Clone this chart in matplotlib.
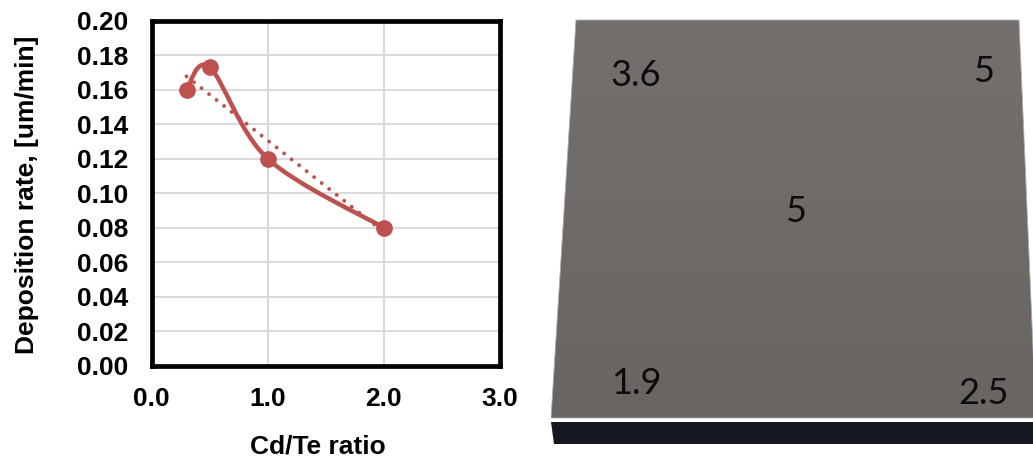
import numpy as np
import matplotlib
matplotlib.use("Agg")
from matplotlib import pyplot as plt
from matplotlib.path import Path
from matplotlib.patches import PathPatch, Polygon

plt.rcParams['font.family'] = ['Liberation Sans', 'DejaVu Sans']

# Chart data
cd_te = [0.3, 0.5, 1.0, 2.0]
rate = [0.16, 0.173, 0.12, 0.08]
x_ticks = [0.0, 1.0, 2.0, 3.0]
y_ticks = [0.00, 0.02, 0.04, 0.06, 0.08, 0.10, 0.12, 0.14, 0.16, 0.18, 0.20]

# Numbers on the plate
plate_labels = ["3.6", "5", "5", "1.9", "2.5"]

W, H = 1033, 459
RED = "#c0504d"
FS = 19
fig = plt.figure(figsize=(W / 100, H / 100), dpi=100)

# Left chart
ax = fig.add_axes([151.7 / W, 1 - 365.7 / H, 348 / W, 345 / H])
ax.set_xlim(0, 3)
ax.set_ylim(0, 0.2)
ax.set_xticks(x_ticks)
ax.set_yticks(y_ticks)
ax.set_xticklabels([f"{v:.1f}" for v in x_ticks], fontsize=FS, fontweight="bold")
ax.set_yticklabels([f"{v:.2f}" for v in y_ticks], fontsize=FS, fontweight="bold")
ax.grid(color="#d9d9d9", linewidth=1.4)
ax.set_axisbelow(True)
ax.tick_params(axis="y", length=0, pad=17)
ax.tick_params(axis="x", length=0, pad=15)
for s in ax.spines.values():
    s.set_linewidth(3.4)
    s.set_color("black")
ax.set_xlabel("Cd/Te ratio", fontsize=FS, fontweight="bold", va="center")
ax.set_ylabel("Deposition rate, [um/min]", fontsize=FS, fontweight="bold", va="center")
ax.xaxis.set_label_coords((318 - 151.7) / 348, (365.7 - 446) / 345)
ax.yaxis.set_label_coords((27 - 151.7) / 348, (365.7 - 195) / 345)

# Linear trendline (dotted)
slope, inter = np.polyfit(cd_te, rate, 1)
tx = np.array([cd_te[0], cd_te[-1]])
ax.plot(tx, slope * tx + inter, color=RED, linestyle=(0, (0.01, 2.45)), linewidth=2.8,
        dash_capstyle="round", zorder=3)

# Smoothed line like a spreadsheet chart, bezier segments through the data points
px = [cd_te[0]] + cd_te + [cd_te[-1]]
py = [rate[0]] + rate + [rate[-1]]
verts = [(cd_te[0], rate[0])]
codes = [Path.MOVETO]
for i in range(1, len(px) - 2):
    c1 = (px[i] + (px[i + 1] - px[i - 1]) / 6, py[i] + (py[i + 1] - py[i - 1]) / 6)
    c2 = (px[i + 1] - (px[i + 2] - px[i]) / 6, py[i + 1] - (py[i + 2] - py[i]) / 6)
    verts += [c1, c2, (px[i + 1], py[i + 1])]
    codes += [Path.CURVE4, Path.CURVE4, Path.CURVE4]
ax.add_patch(PathPatch(Path(verts, codes), fill=False, edgecolor=RED, linewidth=3.2, zorder=4))
ax.plot(cd_te, rate, "o", color=RED, markersize=11, zorder=5, linestyle="none")

# Right picture, drawn in pixel coordinates of the image
pic = fig.add_axes([0, 0, 1, 1], facecolor="none")
pic.set_xlim(0, W)
pic.set_ylim(H, 0)
pic.axis("off")

# Plate top face with a faint vertical gradient
corners = [(576, 20), (1019, 20), (1036, 418), (551, 418)]
pic.add_patch(Polygon(corners, closed=True, facecolor="none", edgecolor="#aab0b8",
                      linewidth=0.6, zorder=3))
grad = np.linspace(0, 1, 256).reshape(-1, 1, 1)
c_top = np.array([0x74, 0x70, 0x6e]) / 255
c_bot = np.array([0x69, 0x65, 0x63]) / 255
img = c_top + (c_bot - c_top) * grad
im = pic.imshow(img, extent=(540, 1040, 418, 20), aspect="auto", zorder=2)
im.set_clip_path(Polygon(corners, closed=True, transform=pic.transData))
pic.set_xlim(0, W)
pic.set_ylim(H, 0)

# Dark front side
pic.add_patch(Polygon([(551, 422), (1036, 422), (1036, 444), (554, 444)], closed=True,
                      facecolor="#14171e", edgecolor="none", zorder=2))

plate_pos = [(636, 75), (984, 71), (796, 211), (636, 384), (984, 393)]
for (tx_, ty_), lab in zip(plate_pos, plate_labels):
    pic.text(tx_, ty_, lab, fontsize=26, family=["Lato", "DejaVu Sans"],
             color="#0c0c0e", ha="center", va="center", zorder=4)

fig.savefig("out.png", dpi=100)
